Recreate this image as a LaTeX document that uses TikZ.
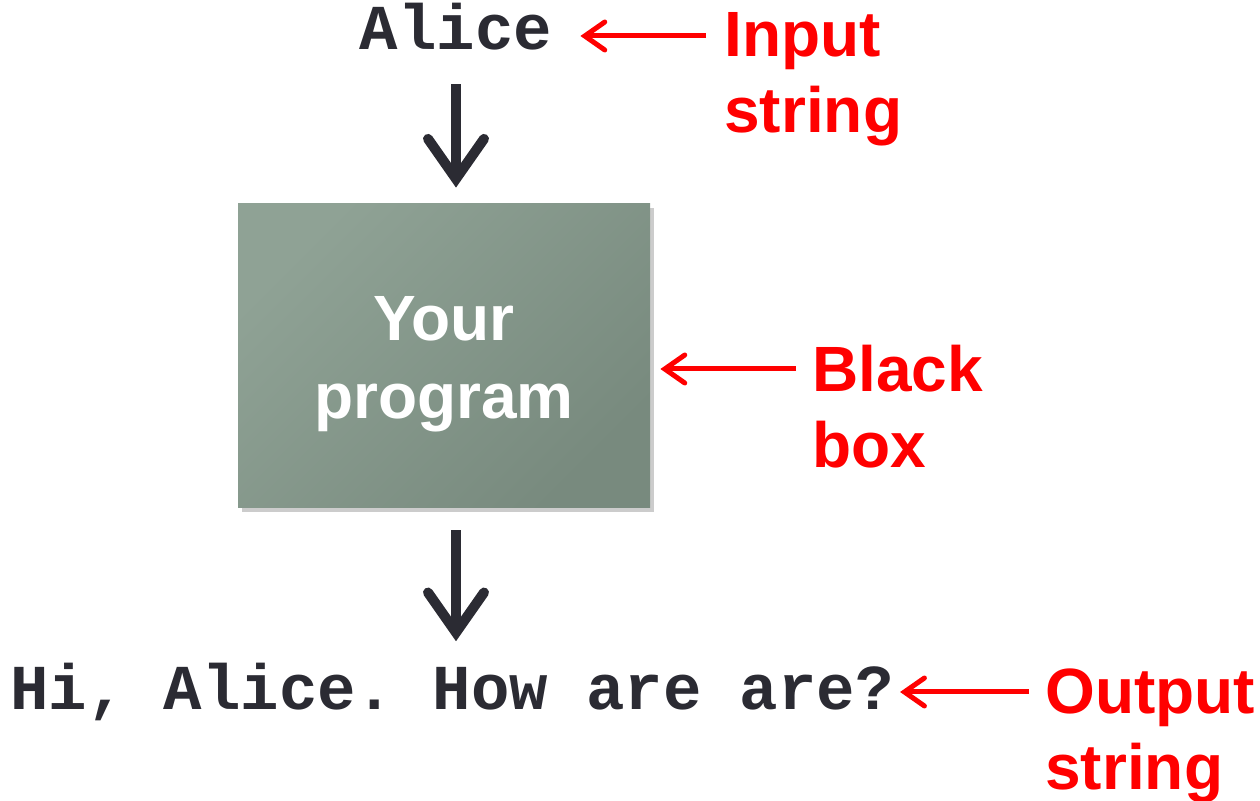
\documentclass[tikz,border=0pt]{standalone}
\usepackage{fontspec}
\setmainfont{Liberation Sans}
\setmonofont{Liberation Mono}
\usetikzlibrary{arrows.meta,shadows,positioning}

\definecolor{codegray}{HTML}{2B2B33}
\definecolor{boxlight}{HTML}{8FA295}
\definecolor{boxdark}{HTML}{788A7E}

\tikzset{
  codetext/.style={font=\ttfamily\bfseries\fontsize{32}{38}\selectfont,text=codegray,inner sep=0pt},
  note/.style={font=\bfseries\fontsize{32}{38}\selectfont,text=red,align=left,inner sep=0pt},
  flow/.style={line width=5pt,draw=codegray,-{Straight Barb[length=20pt,width=28pt,line cap=round]}},
  pointer/.style={line width=2.5pt,draw=red,-{Straight Barb[length=10pt,width=14pt,line cap=round]}},
  progtext/.style={font=\bfseries\fontsize{32}{39}\selectfont,text=white,align=center}
}

\begin{document}
\begin{tikzpicture}[x=0.5pt,y=-0.5pt]
\useasboundingbox (0,0) rectangle (1260,801);
%Text nodes
\node at (456,50) [codetext,anchor=base] (alice) {Alice};
\node at (452,710) [codetext,anchor=base] (reply) {Hi, Alice. How are are?};
\node at (444,356) [minimum width=206pt,minimum height=152pt,
  left color=boxlight,right color=boxdark,shading angle=45,
  drop shadow={shadow xshift=2pt,shadow yshift=-2pt,opacity=0.4},
  label={[progtext,yshift=-4pt]center:{Your\\program}}] (prog) {};

%Labels
\node at (724,12) [note,anchor=north west] (inlabel) {Input\\string};
\node at (812,345) [note,anchor=north west] (boxlabel) {Black\\box};
\node at (1045,668) [note,anchor=north west] (outlabel) {Output\\string};

%Flow arrows
\draw [flow] ([yshift=-16.5pt]alice.south) -- ([yshift=8pt]alice.south |- prog.north);
\draw [flow] ([yshift=-11pt]alice.south |- prog.south) -- ([yshift=11pt]alice.south |- reply.north);

%Pointers
\draw [pointer] ([xshift=-9pt,yshift=-12pt]inlabel.north west) -- ([xshift=14pt,yshift=-12pt]inlabel.north west -| alice.east);
\draw [pointer] ([xshift=-8pt,yshift=-12pt]boxlabel.north west) -- ([xshift=5pt,yshift=-12pt]boxlabel.north west -| prog.east);
\draw [pointer] ([xshift=-8pt,yshift=-12pt]outlabel.north west) -- ([xshift=3pt,yshift=-12pt]outlabel.north west -| reply.east);
\end{tikzpicture}
\end{document}
